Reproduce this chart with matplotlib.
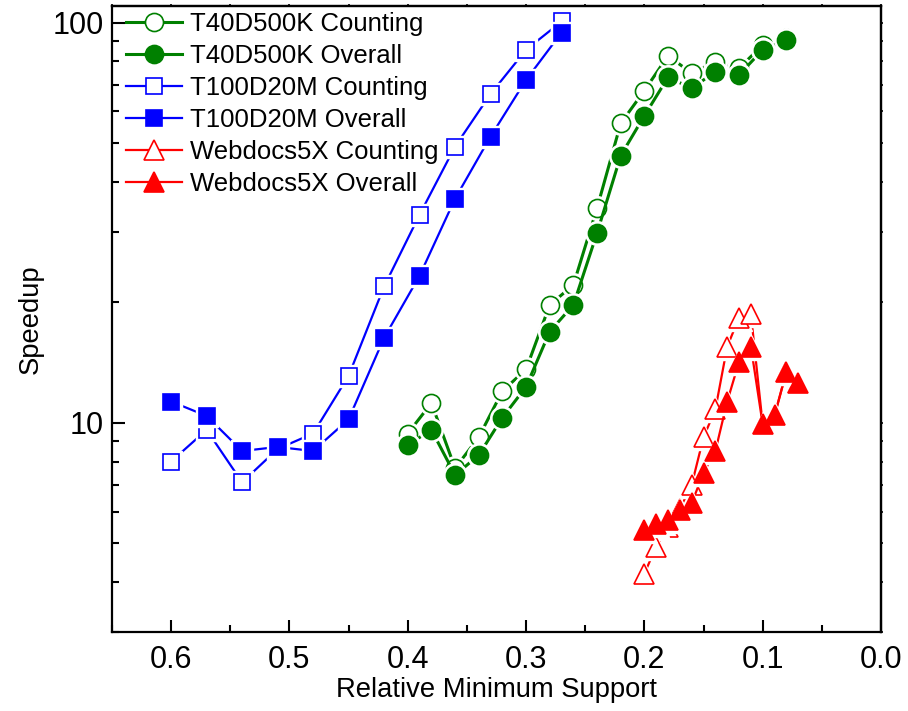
import matplotlib
matplotlib.use("Agg")
import matplotlib.pyplot as plt
from matplotlib.lines import Line2D
from matplotlib.ticker import LogLocator, FixedLocator, MultipleLocator, NullFormatter

plt.rcParams['font.family'] = ['Liberation Sans', 'DejaVu Sans']

# T40D500K
t40_support = [0.40, 0.38, 0.36, 0.34, 0.32, 0.30, 0.28, 0.26, 0.24, 0.22,
               0.20, 0.18, 0.16, 0.14, 0.12, 0.10, 0.08]
t40_counting = [9.4, 11.2, 7.7, 9.2, 12.0, 13.6, 19.7, 22.1, 34.4, 56.0,
                67.6, 82.6, 74.7, 79.9, 76.9, 87.9, 91.4]
t40_overall = [8.8, 9.6, 7.4, 8.3, 10.3, 12.3, 16.9, 19.7, 29.8, 46.5,
               58.5, 73.0, 68.5, 75.4, 74.0, 85.5, 90.5]

# T100D20M
t100_support = [0.60, 0.57, 0.54, 0.51, 0.48, 0.45, 0.42, 0.39, 0.36, 0.33, 0.30, 0.27]
t100_counting = [8.0, 9.6, 7.1, 8.6, 9.4, 13.1, 21.9, 33.1, 49.0, 66.3, 85.5, 100.6]
t100_overall = [11.3, 10.4, 8.5, 8.7, 8.5, 10.2, 16.3, 23.3, 36.3, 51.9, 71.9, 94.4]

# Webdocs5X
web_support = [0.20, 0.19, 0.18, 0.17, 0.16, 0.15, 0.14, 0.13, 0.12, 0.11,
               0.10, 0.09, 0.08, 0.07]
web_counting = [4.2, 4.9, 5.5, 6.1, 7.0, 9.2, 10.8, 15.5, 18.3, 18.7,
                9.9, 10.4, 13.4, 12.6]
web_overall = [5.4, 5.6, 5.7, 6.05, 6.3, 7.5, 8.5, 11.3, 14.2, 15.5,
               9.9, 10.45, 13.4, 12.6]

series = [
    ("T40D500K Counting", t40_support, t40_counting, "green", "o", False, 13, 2.2),
    ("T40D500K Overall", t40_support, t40_overall, "green", "o", True, 13, 2.2),
    ("T100D20M Counting", t100_support, t100_counting, "blue", "s", False, 12, 1.6),
    ("T100D20M Overall", t100_support, t100_overall, "blue", "s", True, 12, 1.6),
    ("Webdocs5X Counting", web_support, web_counting, "red", "^", False, 14, 1.6),
    ("Webdocs5X Overall", web_support, web_overall, "red", "^", True, 14, 1.6),
]

fig = plt.figure(figsize=(9.08, 7.11), dpi=100)
ax = fig.add_axes([0.1233, 0.1111, 0.847, 0.8805])

handles = []
z = 2
for label, xs, ys, col, mk, filled, ms, lw in series:
    face = col if filled else "white"
    ax.plot(xs, ys, color=col, lw=lw, zorder=z)
    # white halo so the line stops short of each marker
    ax.plot(xs, ys, ls="none", marker=mk, ms=ms + 4, mfc="white", mec="white", zorder=z + 0.1)
    ax.plot(xs, ys, ls="none", marker=mk, ms=ms, mfc=face, mec=col, mew=1.2, zorder=z + 0.2)
    z += 1
    handles.append(Line2D([], [], color=col, lw=lw, marker=mk, ms=ms,
                          mfc=face, mec=col, mew=1.2, label=label))

ax.set_yscale("log")
ax.set_xlim(0.65, 0.0)
ax.set_ylim(3, 110)

ax.xaxis.set_major_locator(FixedLocator([0.6, 0.5, 0.4, 0.3, 0.2, 0.1, 0.0]))
ax.xaxis.set_minor_locator(MultipleLocator(0.05))
ax.set_xticklabels(["0.6", "0.5", "0.4", "0.3", "0.2", "0.1", "0.0"])
ax.yaxis.set_major_locator(FixedLocator([10, 100]))
ax.yaxis.set_minor_locator(LogLocator(base=10, subs=range(2, 10)))
ax.yaxis.set_minor_formatter(NullFormatter())
ax.set_yticklabels(["10", "100"])

for s in ax.spines.values():
    s.set_linewidth(1.6)

ax.tick_params(axis="both", which="major", direction="in", length=9, width=1.5,
               labelsize=22, pad=6)
ax.tick_params(axis="x", which="major", pad=9)
ax.tick_params(axis="both", which="minor", direction="in", length=5, width=1.5)

# tiny outward ticks on top and right, as in the original
top = ax.secondary_xaxis("top")
top.xaxis.set_major_locator(FixedLocator([0.6, 0.5, 0.4, 0.3, 0.2, 0.1, 0.0]))
top.xaxis.set_minor_locator(MultipleLocator(0.05))
top.tick_params(which="both", direction="out", length=1.5, width=1.2, labeltop=False)
top.spines["top"].set_linewidth(1.6)
right = ax.secondary_yaxis("right")
right.yaxis.set_major_locator(FixedLocator([10, 100]))
right.yaxis.set_minor_locator(LogLocator(base=10, subs=range(2, 10)))
right.tick_params(which="both", direction="out", length=1.5, width=1.2,
                  labelright=False)
right.spines["right"].set_linewidth(1.6)

ax.set_xlabel("Relative Minimum Support", fontsize=19.7, labelpad=2)
ax.set_ylabel("Speedup", fontsize=19.7, labelpad=6)

ax.legend(handles=handles, loc="upper left", bbox_to_anchor=(0.0182, 0.9896),
          frameon=False, fontsize=18.5, handlelength=2.2, handletextpad=0.3,
          labelspacing=0.31, borderaxespad=0.0, borderpad=0.0)

fig.savefig("out.png", dpi=100)
